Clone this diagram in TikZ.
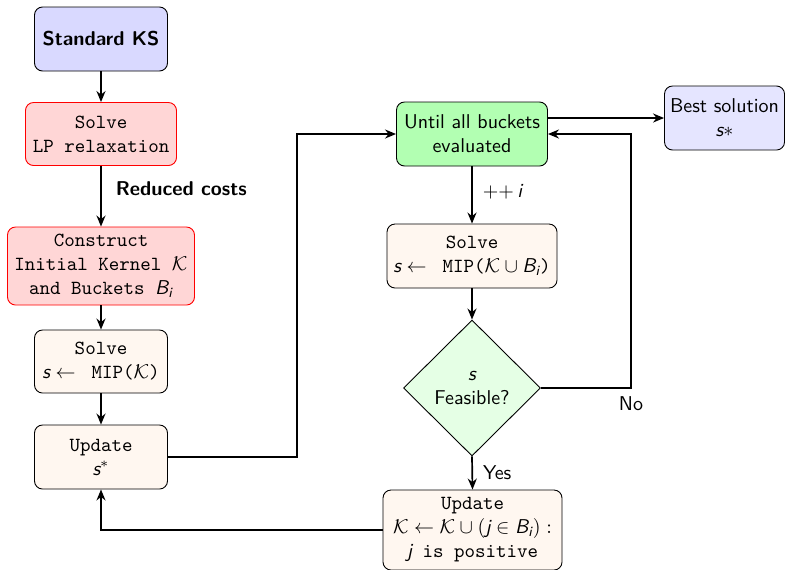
\documentclass[tikz,border=0pt]{standalone}
\usepackage{amsmath}
\usetikzlibrary{shapes.geometric,arrows.meta}
% slanted sans letters for the math symbols in the boxes
\newcommand{\mv}[1]{\text{\sffamily\itshape #1}}
\begin{document}
\begin{tikzpicture}[x=0.5pt,y=-0.5pt,
  font=\sffamily,
  box/.style={draw, rounded corners=4pt, align=center, inner sep=1pt, line width=0.45pt},
  redbox/.style={box, draw=red, fill=red!16},
  stepbox/.style={box, fill=orange!6},
  flow/.style={-{Stealth[length=5.5pt,width=4.5pt]}, line width=0.85pt},
  lbl/.style={font=\sffamily, inner sep=1pt}]
\useasboundingbox (0,0) rectangle (785,569);

% left column
\node[box, fill=blue!15, minimum width=66.5pt, minimum height=32pt, font=\sffamily\bfseries]
  (ks) at (101,39) {Standard KS};
\node[redbox, minimum width=75.5pt, minimum height=31.5pt]
  (lp) at (101,134) {\texttt{Solve}\\\texttt{LP relaxation}};
\node[redbox, minimum width=93.5pt, minimum height=39pt]
  (con) at (101,266) {\texttt{Construct}\\\texttt{Initial Kernel }$\mathcal{K}$\\\texttt{and Buckets }$\mv{B}_{\mv{i}}$};
\node[stepbox, minimum width=66.5pt, minimum height=31.5pt]
  (sk) at (101,361.5) {\texttt{Solve}\\$\mv{s}\leftarrow\texttt{ MIP(}\mathcal{K}\texttt{)}$};
\node[stepbox, minimum width=66.5pt, minimum height=32pt]
  (us) at (101,457) {\texttt{Update}\\$\mv{s}^{*}$};

% right column
\node[box, fill=green!30, minimum width=75.5pt, minimum height=32pt]
  (until) at (472,134) {Until all buckets\\evaluated};
\node[box, fill=blue!10, minimum width=60pt, minimum height=32pt]
  (best) at (724.5,118) {Best solution\\$\mv{s}*$};
\node[stepbox, minimum width=85pt, minimum height=32pt]
  (sb) at (472,256) {\texttt{Solve}\\$\mv{s}\leftarrow\texttt{ MIP(}\mathcal{K}\cup \mv{B}_{\mv{i}}\texttt{)}$};
\node[draw, diamond, aspect=1, fill=green!10, inner sep=1pt, line width=0.45pt,
  minimum width=68.5pt, minimum height=68pt, align=center]
  (dia) at (472,388) {\mv{s}\\Feasible?};
\node[stepbox, minimum width=89.5pt, minimum height=40pt]
  (uk) at (472.5,530) {\texttt{Update}\\$\mathcal{K}\leftarrow\mathcal{K}\cup(\mv{j}\in \mv{B}_{\mv{i}}):$\\\mv{j}\texttt{ is positive}};

% bends of the routed connectors
\coordinate (turnA) at (297,457);
\coordinate (noC) at (631,388);

% connectors
\draw[flow] (ks) -- (lp);
\draw[flow] (lp) -- node[right=6pt, pos=0.38, lbl, font=\sffamily\bfseries] {Reduced costs} (con);
\draw[flow] (con) -- (sk);
\draw[flow] (sk) -- (us);
\draw[flow] (us.east) -- (turnA) |- (until.west);
\draw[flow] (until.east |- best.west) -- (best.west);
\draw[flow] (until) -- node[right=4pt, pos=0.45, lbl] {++\,\mv{i}} (sb);
\draw[flow] (sb) -- (dia);
\draw[flow] (dia.east) -- (noC) |- (until.east);
\node[lbl, below=3pt] (nolbl) at (noC) {No};
\draw[flow] (dia.south) -- node[right=4pt, lbl] {Yes} (uk.north);
\draw[flow] (uk.west) -| (us.south);
\end{tikzpicture}
\end{document}
